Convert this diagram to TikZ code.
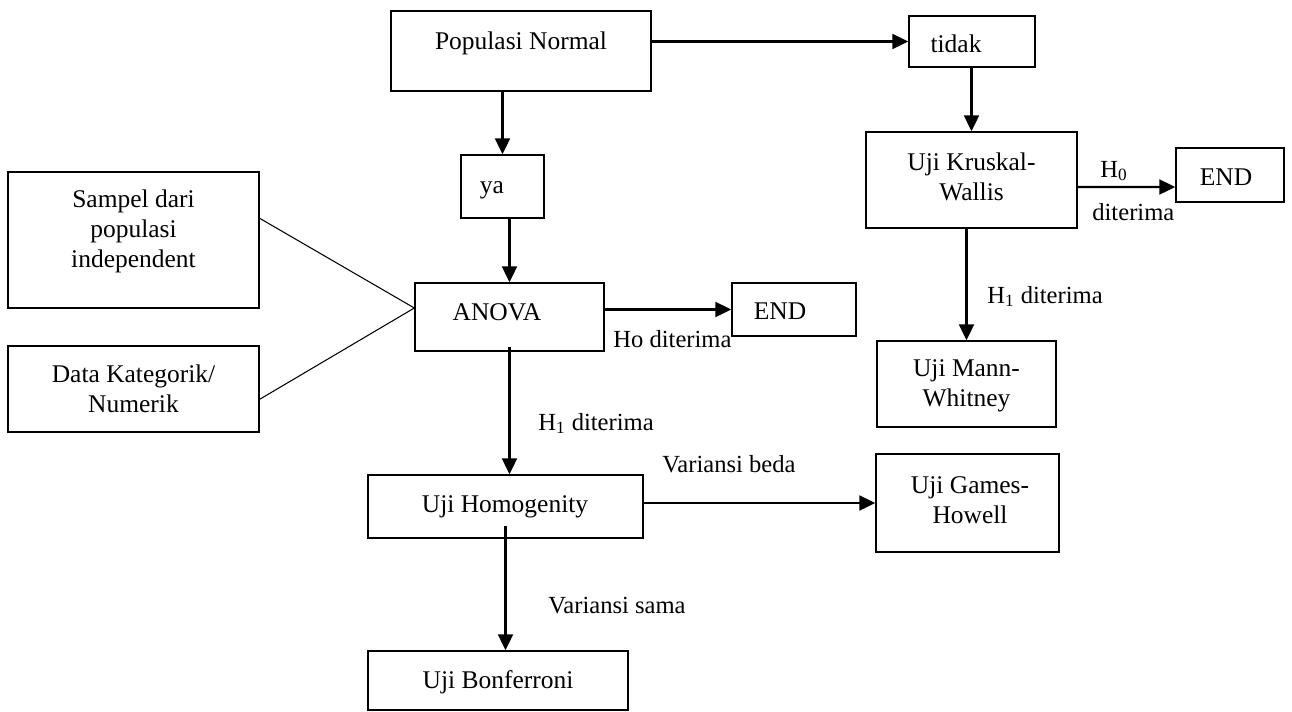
\documentclass[tikz,border=0pt]{standalone}
\usepackage{fontspec}
\setmainfont{Liberation Serif}
\usetikzlibrary{arrows.meta}

\begin{document}
\begin{tikzpicture}[->,>={Triangle[length=0.32cm,width=0.3cm]},x=0.02cm,y=-0.02cm,
    box/.style={draw,thick,inner sep=0pt},
    txt/.style={inner sep=0pt,align=center,font=\fontsize{14.5}{17}\selectfont},
    lbl/.style={inner sep=0pt,anchor=base west,font=\fontsize{14}{16}\selectfont},
    every edge/.style={draw,line width=1.2pt}]
    \useasboundingbox (0,0) rectangle (1292,711);

    % boxes
    \node[box,minimum width=5.2cm,minimum height=1.6cm] (1) at (521,51) {};
    \node[box,minimum width=2.52cm,minimum height=1.02cm] (2) at (972,41.5) {};
    \node[box,minimum width=1.66cm,minimum height=1.26cm] (3) at (502.5,186.5) {};
    \node[box,minimum width=3.78cm,minimum height=1.36cm] (4) at (509.5,317) {};
    \node[box,minimum width=2.48cm,minimum height=1.06cm] (5) at (794,309.5) {};
    \node[box,minimum width=4.22cm,minimum height=1.92cm] (6) at (971.5,180) {};
    \node[box,minimum width=2.16cm,minimum height=1.08cm] (7) at (1230,175) {};
    \node[box,minimum width=5.5cm,minimum height=1.26cm] (8) at (505.5,506.5) {};
    \node[box,minimum width=3.66cm,minimum height=1.96cm] (9) at (967.5,503) {};
    \node[box,minimum width=5.2cm,minimum height=1.18cm] (10) at (498,680.5) {};
    \node[box,minimum width=3.58cm,minimum height=1.72cm] (11) at (966.5,384) {};
    \node[box,minimum width=5.02cm,minimum height=2.72cm] (12) at (133.5,240) {};
    \node[box,minimum width=5.02cm,minimum height=1.72cm] (13) at (133.5,389) {};

    % texts in the boxes
    \node[txt,anchor=base] (1t) at (521,49) {Populasi Normal};
    \node[txt,anchor=base] (2t) at (956,52) {tidak};
    \node[txt,anchor=base] (3t) at (492,193) {ya};
    \node[txt,anchor=base] (4t) at (497,320) {ANOVA};
    \node[txt,anchor=base] (5t) at (780,319) {END};
    \node[txt] (6t) at (971.5,177) {Uji Kruskal-\\Wallis};
    \node[txt,anchor=base] (7t) at (1226,185) {END};
    \node[txt,anchor=base] (8t) at (505,512) {Uji Homogenity};
    \node[txt] (9t) at (970,500) {Uji Games-\\Howell};
    \node[txt,anchor=base] (10t) at (498,688) {Uji Bonferroni};
    \node[txt] (11t) at (966.5,386) {Uji Mann-\\Whitney};
    \node[txt] (12t) at (133.5,231) {Sampel dari\\populasi\\independent};
    \node[txt] (13t) at (133.5,389) {Data Kategorik/\\Numerik};

    % labels
    \node[lbl] (l1) at (1100,177) {H\textsubscript{0}};
    \node[lbl] (l2) at (1092,220) {diterima};
    \node[lbl] (l3) at (613,347) {Ho diterima};
    \node[lbl] (l4) at (538,430) {H\textsubscript{1} diterima};
    \node[lbl] (l5) at (987,303) {H\textsubscript{1} diterima};
    \node[lbl] (l6) at (662,472) {Variansi beda};
    \node[lbl] (l7) at (548,613) {Variansi sama};

    \path
        (1.east |- 2.west) edge (2.west)
        (3.north |- 1.south) edge (3.north)
        (4.north |- 3.south) edge (4.north)
        (2.south -| 6.north) edge (6.north)
        (4.east |- 5.west) edge (5.west)
        ([yshift=-0.14cm]6.east) edge ([yshift=-0.24cm]7.west)
        (6.south -| 11.north) edge (11.north)
        ([yshift=0.1cm]4.south) edge (4.south |- 8.north)
        (8.east |- 9.west) edge (9.west)
        ([yshift=0.26cm]8.south) edge (8.south |- 10.north)
        ;

    \draw[-,line width=0.6pt] ([yshift=-0.94cm]12.north east) -- ([yshift=0.18cm]4.west);
    \draw[-,line width=0.6pt] ([yshift=-1.08cm]13.north east) -- ([yshift=0.18cm]4.west);
\end{tikzpicture}
\end{document}
